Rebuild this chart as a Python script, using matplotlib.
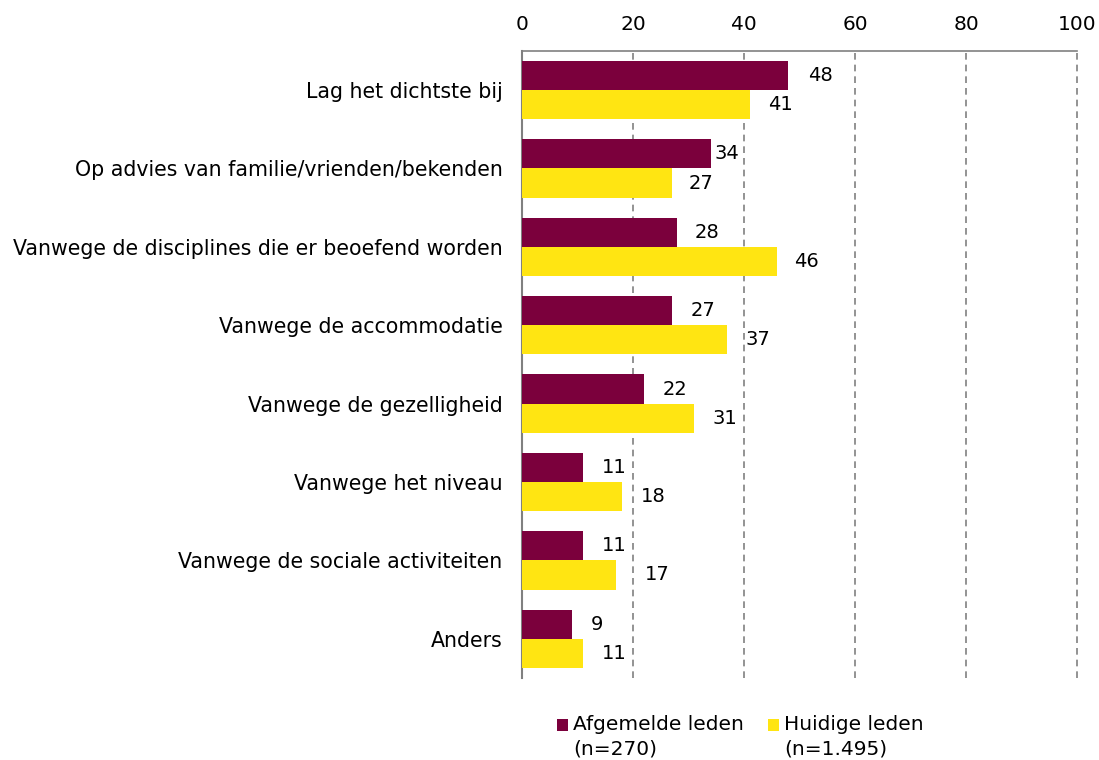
import matplotlib
matplotlib.use("Agg")
import matplotlib.pyplot as plt
import numpy as np

categories = ["Lag het dichtste bij", "Op advies van familie/vrienden/bekenden",
              "Vanwege de disciplines die er beoefend worden", "Vanwege de accommodatie",
              "Vanwege de gezelligheid", "Vanwege het niveau",
              "Vanwege de sociale activiteiten", "Anders"]
afgemeld = [48, 34, 28, 27, 22, 11, 11, 9]
huidig = [41, 27, 46, 37, 31, 18, 17, 11]
series_names = ["Afgemelde leden\n(n=270)", "Huidige leden\n(n=1.495)"]
xticks = [0, 20, 40, 60, 80, 100]

# label offsets from bar end (axis units), as placed in the original
off_afgemeld = [3.6, 0.7, 3.1, 3.3, 3.3, 3.3, 3.3, 3.3]
off_huidig = [3.4, 3.0, 3.1, 3.2, 3.3, 3.4, 5.2, 3.3]

plt.rcParams['font.family'] = ['DejaVu Sans']
fig = plt.figure(figsize=(10.99, 7.6), dpi=100)
ax = fig.add_axes([0.475, 0.108, 0.505, 0.825])

y = np.arange(len(categories))
h = 0.372
c1, c2 = "#7B003C", "#FFE512"
b1 = ax.barh(y - h/2, afgemeld, height=h, color=c1, label=series_names[0], zorder=3)
b2 = ax.barh(y + h/2, huidig, height=h, color=c2, label=series_names[1], zorder=3)
for yy, v, o in zip(y, afgemeld, off_afgemeld):
    ax.text(v + o, yy - h/2, str(v), va="center", ha="left", fontsize=14, zorder=4)
for yy, v, o in zip(y, huidig, off_huidig):
    ax.text(v + o, yy + h/2, str(v), va="center", ha="left", fontsize=14, zorder=4)

ax.set_xlim(0, 100)
ax.set_ylim(len(categories) - 0.5, -0.5)
ax.set_yticks(y)
ax.set_yticklabels(categories, fontsize=14.8)
ax.set_xticks(xticks)
ax.xaxis.tick_top()
ax.tick_params(axis="x", labelsize=14.5, length=0, pad=12)
ax.tick_params(axis="y", length=0, pad=14)
ax.grid(axis="x", color="#808080", linestyle=(0, (4, 3)), linewidth=1.2, zorder=0)
for gl in ax.get_xgridlines():
    gl.set_clip_on(False)
for s in ["right", "bottom"]:
    ax.spines[s].set_visible(False)
ax.spines["top"].set_color("#808080")
ax.spines["left"].set_color("#808080")
ax.spines["top"].set_linewidth(1.2)
ax.spines["left"].set_linewidth(1.5)

leg = fig.legend(handles=[b1, b2], labels=series_names, loc="upper left",
                 bbox_to_anchor=(0.507, 0.059), ncol=2, frameon=False,
                 handlelength=0.55, handleheight=0.55, handletextpad=0.25, columnspacing=1.2,
                 borderaxespad=0.0, borderpad=0.0, labelspacing=0.0,
                 prop={'size': 14.5})
for t in leg.get_texts():
    t.set_linespacing(1.35)
for p in leg.get_patches():
    p.set_y(p.get_y() + 8.5)
fig.savefig("out.png", dpi=100)
